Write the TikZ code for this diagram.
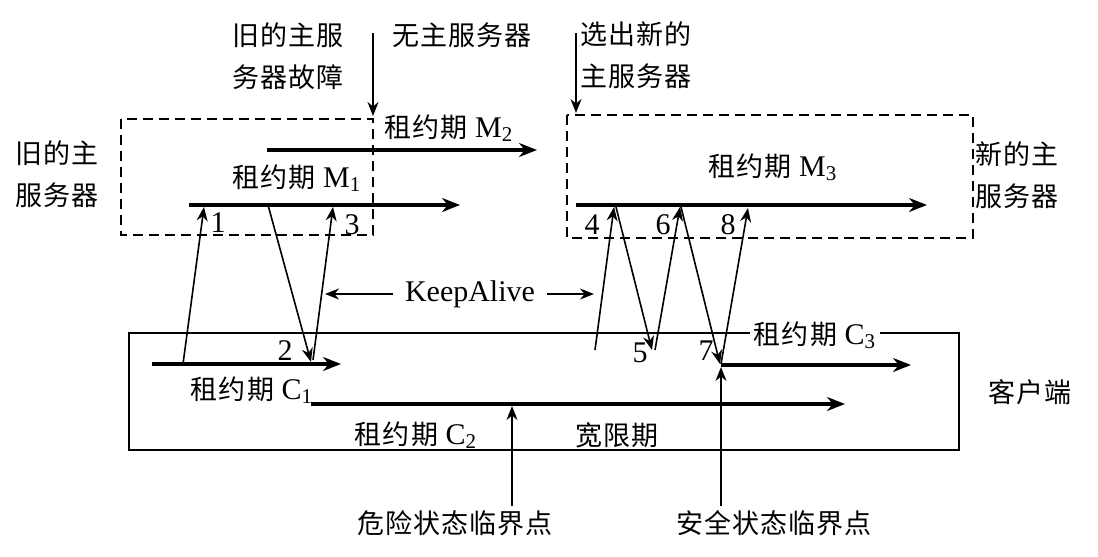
\documentclass[tikz,border=0pt]{standalone}
\usepackage{fontspec}
\setmainfont{Liberation Serif}
\newfontfamily\cjk{Noto Sans CJK SC}[Scale=0.9, LetterSpace=4]
\usetikzlibrary{arrows.meta}
\newcommand{\zuyue}[2]{{\cjk 租约期} #1\textsubscript{#2}}

\begin{document}
\begin{tikzpicture}[
  x=0.5pt, y=-0.5pt,
  font=\fontsize{15}{21}\selectfont,
  srvbox/.style={draw, dash pattern=on 5pt off 3pt, line width=1pt},
  clibox/.style={draw, line width=1pt},
  lease/.style={-{Stealth[length=9pt,width=7pt]}, line width=2pt},
  msg/.style={-{Stealth[length=7pt,width=5.5pt]}, line width=0.8pt},
  note/.style={align=left, inner sep=0pt, font=\cjk\fontsize{15}{21}\selectfont},
  num/.style={inner sep=0pt}
]
\useasboundingbox (0,0) rectangle (1098,557);

% boxes
\draw[srvbox] (121,119) rectangle (373,235);
\draw[srvbox] (567,115) rectangle (973,238);
\draw[clibox] (129,333) rectangle (959,450);

% lease lines
\coordinate (m1a) at (189,205); \coordinate (m1b) at (460,205);
\coordinate (m2a) at (267,150); \coordinate (m2b) at (537,150);
\coordinate (m3a) at (576,205); \coordinate (m3b) at (927,205);
\coordinate (c1a) at (152,364); \coordinate (c1b) at (341,364);
\coordinate (c2a) at (311,404); \coordinate (c2b) at (845,404);
\coordinate (c3a) at (721,365); \coordinate (c3b) at (911,365);
\draw[lease] (m1a) -- (m1b);
\draw[lease] (m2a) -- (m2b);
\draw[lease] (m3a) -- (m3b);
\draw[lease] (c1a) -- (c1b);
\draw[lease] (c2a) -- (c2b);
\draw[lease] (c3a) -- (c3b);

\node (lm1) at (297,178) {\zuyue{M}{1}};
\node (lm2) at (449,128) {\zuyue{M}{2}};
\node (lm3) at (773,167) {\zuyue{M}{3}};
\node (lc1) at (252,390) {\zuyue{C}{1}};
\node (lc2) at (416,435) {\zuyue{C}{2}};
\node[fill=white, inner sep=2pt] (lc3) at (815,335) {\zuyue{C}{3}};
\node[note] (grace) at (617,435) {宽限期};

% messages
\coordinate (s1) at (183,364); \coordinate (t1) at (204,207);
\coordinate (s2) at (268,205); \coordinate (t2) at (311,362);
\coordinate (s3) at (313,360); \coordinate (t3) at (333,207);
\coordinate (s4) at (595,350); \coordinate (t4) at (614,207);
\coordinate (s5) at (616,207); \coordinate (t5) at (652,350);
\coordinate (s6) at (655,350); \coordinate (t6) at (680,207);
\coordinate (s7) at (681,207); \coordinate (t7) at (720,364);
\coordinate (s8) at (721,364); \coordinate (t8) at (748,208);
\foreach \i in {1,...,8} {
  \draw[msg] (s\i) -- (t\i);
}
\node[num] (n1) at (218,223) {1};
\node[num] (n2) at (285,351) {2};
\node[num] (n3) at (352,225) {3};
\node[num] (n4) at (592,225) {4};
\node[num] (n5) at (640,353) {5};
\node[num] (n6) at (663,225) {6};
\node[num] (n7) at (706,351) {7};
\node[num] (n8) at (728,225) {8};

% keepalive
\node[inner sep=6pt] (ka) at (470,294) {KeepAlive};
\coordinate (kal) at (325,294);
\coordinate (kar) at (594,294);
\draw[msg] (ka) -- (kal);
\draw[msg] (ka) -- (kar);

% top notes
\node[note, anchor=west] (fail) at (232,56) {旧的主服\\务器故障};
\node[note] (nomaster) at (462,35) {无主服务器};
\node[note, anchor=west] (elect) at (580,55) {选出新的\\主服务器};
\coordinate (failtop) at (373,33); \coordinate (failend) at (373,116);
\coordinate (electtop) at (576,33); \coordinate (electend) at (576,113);
\draw[msg] (failtop) -- (failend);
\draw[msg] (electtop) -- (electend);

% side notes
\node[note, anchor=west] (oldsrv) at (15,174) {旧的主\\服务器};
\node[note, anchor=west] (newsrv) at (975,175) {新的主\\服务器};
\node[note] (client) at (1030,392) {客户端};

% critical points
\node[note] (danger) at (455,523) {危险状态临界点};
\node[note] (safe) at (774,523) {安全状态临界点};
\coordinate (dangerend) at (512,406);
\coordinate (safeend) at (721,367);
\draw[msg] (danger.north -| dangerend) ++(0,-4) -- (dangerend);
\draw[msg] (safe.north -| safeend) ++(0,-4) -- (safeend);
\end{tikzpicture}
\end{document}
